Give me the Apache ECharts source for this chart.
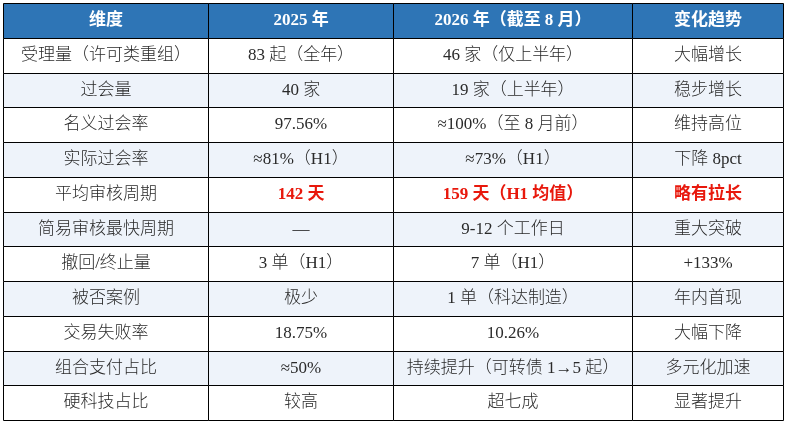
<!DOCTYPE html>
<html>
<head>
<meta charset="utf-8">
<script src="https://cdn.jsdelivr.net/npm/echarts@6/dist/echarts.min.js"></script>
<style>
  html, body { margin: 0; padding: 0; background: #fff; }
  #main { width: 786px; height: 424px; }
</style>
</head>
<body>
<div id="main"></div>
<script>
// 表头与各列内容
const headers = ['维度', '2025 年', '2026 年（截至 8 月）', '变化趋势']
const dimensions = ['受理量（许可类重组）', '过会量', '名义过会率', '实际过会率', '平均审核周期', '简易审核最快周期', '撤回/终止量', '被否案例', '交易失败率', '组合支付占比', '硬科技占比']
const values2025 = ['83 起（全年）', '40 家', '97.56%', '≈81%（H1）', '142 天', '—', '3 单（H1）', '极少', '18.75%', '≈50%', '较高']
const values2026 = ['46 家（仅上半年）', '19 家（上半年）', '≈100%（至 8 月前）', '≈73%（H1）', '159 天（H1 均值）', '9-12 个工作日', '7 单（H1）', '1 单（科达制造）', '10.26%', '持续提升（可转债 1→5 起）', '超七成']
const trends = ['大幅增长', '稳步增长', '维持高位', '下降 8pct', '略有拉长', '重大突破', '+133%', '年内首现', '大幅下降', '多元化加速', '显著提升']
const highlightRows = ['平均审核周期']

// 列宽（布局）
const colWidths = [205, 185, 239, 151]
const colEdges = [0]
colWidths.forEach(w => colEdges.push(colEdges[colEdges.length - 1] + w))
const rowCount = dimensions.length + 1

const columns = [dimensions, values2025, values2026, trends]
const cells = []
headers.forEach((h, c) => cells.push({ value: [c, 0], text: h, kind: 'header' }))
dimensions.forEach((d, r) => {
  const hl = highlightRows.includes(d)
  columns.forEach((col, c) => {
    cells.push({
      value: [c, r + 1],
      text: col[r],
      kind: hl && c > 0 ? 'red' : 'body',
      stripe: r % 2 === 1
    })
  })
})

const chart = echarts.init(document.getElementById('main'))
chart.setOption({
  animation: false,
  grid: { left: 3, top: 3, width: colEdges[colEdges.length - 1], height: 417 },
  xAxis: { type: 'value', min: 0, max: colEdges[colEdges.length - 1], show: false },
  yAxis: { type: 'value', min: 0, max: rowCount, inverse: true, show: false },
  series: [{
    type: 'custom',
    data: cells,
    renderItem: (params, api) => {
      const cell = cells[params.dataIndex]
      const c = api.value(0)
      const r = api.value(1)
      const p0 = api.coord([colEdges[c], r])
      const p1 = api.coord([colEdges[c + 1], r + 1])
      const x0 = Math.round(p0[0]) + 0.5
      const y0 = Math.round(p0[1]) + 0.5
      const x1 = Math.round(p1[0]) + 0.5
      const y1 = Math.round(p1[1]) + 0.5
      let fill = '#ffffff'
      if (cell.kind === 'header') fill = '#2E75B6'
      else if (cell.stripe) fill = '#EEF3FA'
      let textStyle = {
        text: cell.text,
        x: (x0 + x1) / 2,
        y: (y0 + y1) / 2,
        align: 'center',
        verticalAlign: 'middle',
        fontSize: 17,
        fontFamily: '"Liberation Serif", "Noto Sans CJK SC"',
        fontWeight: 300,
        fill: '#2a2a2a'
      }
      if (cell.kind === 'header') {
        textStyle.fill = '#ffffff'
        textStyle.fontWeight = 'bold'
      } else if (cell.kind === 'red') {
        textStyle.fill = '#E8180C'
        textStyle.fontWeight = 'bold'
      }
      return {
        type: 'group',
        children: [
          {
            type: 'rect',
            shape: { x: x0, y: y0, width: x1 - x0, height: y1 - y0 },
            style: { fill: fill, stroke: '#000', lineWidth: 1 }
          },
          { type: 'text', style: textStyle }
        ]
      }
    }
  }]
})
</script>
</body>
</html>
